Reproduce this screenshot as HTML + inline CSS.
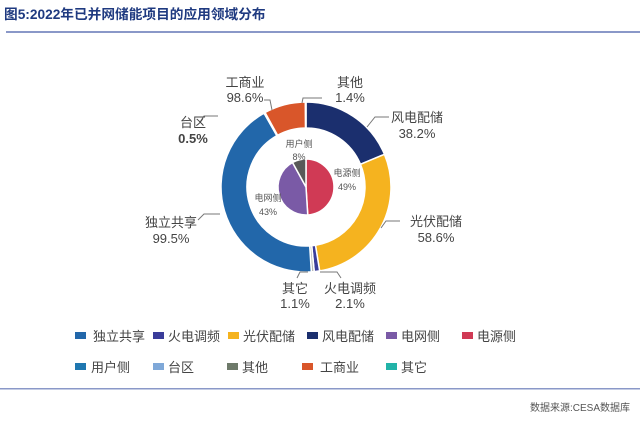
<!DOCTYPE html>
<html><head><meta charset="utf-8"><style>
body{margin:0;width:640px;height:421px;background:#fff;overflow:hidden;font-family:"Liberation Sans","Noto Sans CJK SC",sans-serif;}
</style></head><body>
<svg id="s" width="640" height="421" xmlns="http://www.w3.org/2000/svg" font-family="Liberation Sans, Noto Sans CJK SC, sans-serif">
<text x="4" y="19" font-size="13.7" font-weight="bold" fill="#1f3a80">图5:2022年已并网储能项目的应用领域分布</text>
<rect x="6" y="31" width="634" height="2" fill="#8a98c8"/>
<g id="chart"></g>
<g fill="none" stroke="#777" stroke-width="1">
<polyline points="264,100 270,100 272,110"/>
<polyline points="322,98 303,98 302,103"/>
<polyline points="389,117 375,117 367,127"/>
<polyline points="218,116 204,116 200,122"/>
<polyline points="220,214 204,214 198,220"/>
<polyline points="400,221 386,221 381,228"/>
<polyline points="308,272 300,272 297,278"/>
<polyline points="320,272 337,272 341,278"/>
</g>
<g font-size="13" fill="#444" text-anchor="middle">
<text x="245" y="87">工商业</text><text x="245" y="102">98.6%</text>
<text x="350" y="87">其他</text><text x="350" y="102">1.4%</text>
<text x="417" y="122">风电配储</text><text x="417" y="138">38.2%</text>
<text x="193" y="127">台区</text><text x="193" y="143" font-weight="bold">0.5%</text>
<text x="171" y="227">独立共享</text><text x="171" y="243">99.5%</text>
<text x="436" y="226">光伏配储</text><text x="436" y="242">58.6%</text>
<text x="295" y="293">其它</text><text x="295" y="308">1.1%</text>
<text x="350" y="293">火电调频</text><text x="350" y="308">2.1%</text>
</g>
<g font-size="9" fill="#555" text-anchor="middle">
<text x="299" y="147">用户侧</text><text x="299" y="160">8%</text>
<text x="347" y="176">电源侧</text><text x="347" y="190">49%</text>
<text x="268" y="201">电网侧</text><text x="268" y="215">43%</text>
</g>
<g font-size="13" fill="#444">
<rect x="75" y="332" width="11" height="7" fill="#2267aa"/><text x="93" y="341">独立共享</text>
<rect x="153" y="332" width="11" height="7" fill="#3a3c9a"/><text x="168" y="341">火电调频</text>
<rect x="228" y="332" width="11" height="7" fill="#f5b31f"/><text x="243" y="341">光伏配储</text>
<rect x="307" y="332" width="11" height="7" fill="#1b2f6e"/><text x="322" y="341">风电配储</text>
<rect x="386" y="332" width="11" height="7" fill="#7a5aa6"/><text x="401" y="341">电网侧</text>
<rect x="462" y="332" width="11" height="7" fill="#d03a55"/><text x="477" y="341">电源侧</text>
<rect x="75" y="363" width="11" height="7" fill="#1f77b0"/><text x="91" y="372">用户侧</text>
<rect x="153" y="363" width="11" height="7" fill="#7fa8d8"/><text x="168" y="372">台区</text>
<rect x="227" y="363" width="11" height="7" fill="#6e7a6a"/><text x="242" y="372">其他</text>
<rect x="302" y="363" width="11" height="7" fill="#d9562a"/><text x="320" y="372">工商业</text>
<rect x="386" y="363" width="11" height="7" fill="#22b3a8"/><text x="401" y="372">其它</text>
</g>
<rect x="0" y="388" width="640" height="1.5" fill="#8a98c8"/>
<text x="630" y="411" font-size="10" fill="#555" text-anchor="end">数据来源:CESA数据库</text>
</svg>
<script>
var g=document.getElementById('chart'),cx=306,cy=187;
function pt(r,a){a=a*Math.PI/180;return [cx+r*Math.sin(a),cy-r*Math.cos(a)];}
function arc(r0,r1,a0,a1,c){var l=(a1-a0)>180?1:0,p1=pt(r1,a0),p2=pt(r1,a1),d;
if(r0>0){var p3=pt(r0,a1),p4=pt(r0,a0);d='M'+p1+'A'+r1+','+r1+' 0 '+l+' 1 '+p2+'L'+p3+'A'+r0+','+r0+' 0 '+l+' 0 '+p4+'Z';}
else d='M'+cx+','+cy+'L'+p1+'A'+r1+','+r1+' 0 '+l+' 1 '+p2+'Z';
var e=document.createElementNS('http://www.w3.org/2000/svg','path');e.setAttribute('d',d);e.setAttribute('fill',c);e.setAttribute('stroke','#fff');e.setAttribute('stroke-width','1.5');g.appendChild(e);}
var outer=[[49*.382,'#1b2f6e'],[49*.586,'#f5b31f'],[49*.021,'#3a3c9a'],[49*.011,'#b8b8b8'],[43*.995,'#2267aa'],[43*.005,'#7fa8d8'],[8*.986,'#d9562a'],[8*.014,'#6e7a6a']];
var a=0;outer.forEach(function(s){var b=a+s[0]*3.6;arc(59,85,a,b,s[1]);a=b;});
var inner=[[49,'#d03a55'],[43,'#7a5aa6'],[8,'#595959']];a=0;
inner.forEach(function(s){var b=a+s[0]*3.6;arc(0,28,a,b,s[1]);a=b;});
</script>
</body></html>
